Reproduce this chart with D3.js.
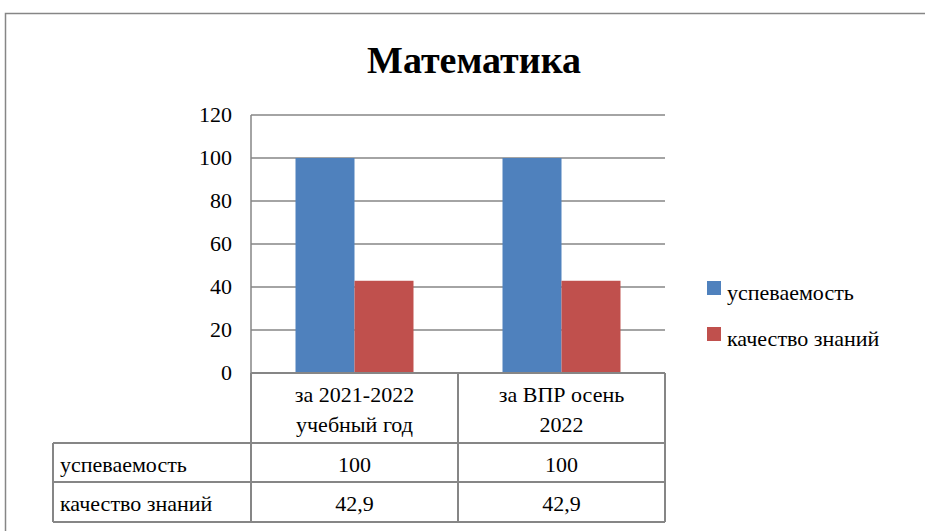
<!DOCTYPE html>
<html><head><meta charset="utf-8">
<script src="https://cdn.jsdelivr.net/npm/d3@7"></script>
<style>body{margin:0;background:#fff}svg{display:block}</style>
</head><body>
<svg id="c" width="925" height="531"></svg>
<script>
const title = "Математика";
const categories = [["за 2021-2022","учебный год"],["за ВПР осень","2022"]];
const seriesNames = ["успеваемость","качество знаний"];
const uspevaemost = [100, 100];
const kachestvo = [42.9, 42.9];
const valueLabels = [["100","100"],["42,9","42,9"]];
const yTicks = [0,20,40,60,80,100,120];
const colors = ["#4F81BD","#C0504D"];

const FONT = "Liberation Serif";
const svg = d3.select("#c");
const gray = "#868686";
svg.append("rect").attr("x",5.5).attr("y",13.5).attr("width",940).attr("height",540)
  .attr("fill","none").attr("stroke",gray).attr("stroke-width",1.5);

svg.append("text").attr("x",474).attr("y",73).attr("text-anchor","middle")
  .attr("font-size",38).attr("font-weight","bold").attr("font-family",FONT).style("font-family","'Times New Roman'").text(title);

const L=251, R=665, T=115, B=373;
const x = d3.scaleBand().domain([0,1]).range([L,R]);
const y = d3.scaleLinear().domain([0,120]).range([B,T]);

svg.append("g").selectAll("line").data(yTicks).join("line")
  .attr("x1",L).attr("x2",R).attr("y1",d=>y(d)).attr("y2",d=>y(d))
  .attr("stroke",gray).attr("stroke-width",1.5);

// y tick labels via scale
svg.append("g").selectAll("text").data(yTicks).join("text")
  .attr("x",232).attr("y",d=>y(d)+7).attr("text-anchor","end")
  .attr("font-size",22).attr("font-family",FONT).style("font-family","'Times New Roman'").text(d=>d);
svg.append("line").attr("x1",L).attr("x2",L).attr("y1",T).attr("y2",B).attr("stroke",gray).attr("stroke-width",1.5);

const series = [uspevaemost, kachestvo];
const bw = x.bandwidth()*0.285;
series.forEach((vals,si)=>{
  svg.append("g").selectAll("rect").data(vals).join("rect")
    .attr("x",(d,i)=>x(i)+x.bandwidth()/2 - bw + si*bw)
    .attr("width",bw)
    .attr("y",d=>y(d)).attr("height",d=>B-y(d))
    .attr("fill",colors[si]);
});

const TL=53;
const tg = svg.append("g");
const lc = gray;
const txt = (g,xx,yy,s,anchor)=>g.append("text").attr("x",xx).attr("y",yy).attr("text-anchor",anchor||"start")
  .attr("font-size",22).attr("font-family",FONT).style("font-family","'Times New Roman'").text(s);
tg.append("line").attr("x1",L).attr("x2",R).attr("y1",B).attr("y2",B).attr("stroke",lc).attr("stroke-width",2);
[443,482,522].forEach(yy=>tg.append("line").attr("x1",TL).attr("x2",R).attr("y1",yy).attr("y2",yy).attr("stroke",lc).attr("stroke-width",2));
tg.append("line").attr("x1",TL).attr("x2",TL).attr("y1",443).attr("y2",522).attr("stroke",lc).attr("stroke-width",2);
[L, x(1), R].forEach(xx=>tg.append("line").attr("x1",xx).attr("x2",xx).attr("y1",B).attr("y2",522).attr("stroke",lc).attr("stroke-width",2));

categories.forEach((c,i)=>{
  const cx = x(i)+x.bandwidth()/2;
  c.forEach((ln,j)=>txt(tg,cx,402+j*30,ln,"middle"));
});
seriesNames.forEach((s,si)=>{
  const by = [472,511][si];
  txt(tg,60,by,s);
  valueLabels[si].forEach((v,i)=>txt(tg,x(i)+x.bandwidth()/2,by,v,"middle"));
});

const lg = svg.append("g");
seriesNames.forEach((s,si)=>{
  const ly = 281 + si*46;
  lg.append("rect").attr("x",707).attr("y",ly).attr("width",14).attr("height",14).attr("fill",colors[si]);
  txt(lg,727,ly+19,s);
});
</script>
</body></html>
